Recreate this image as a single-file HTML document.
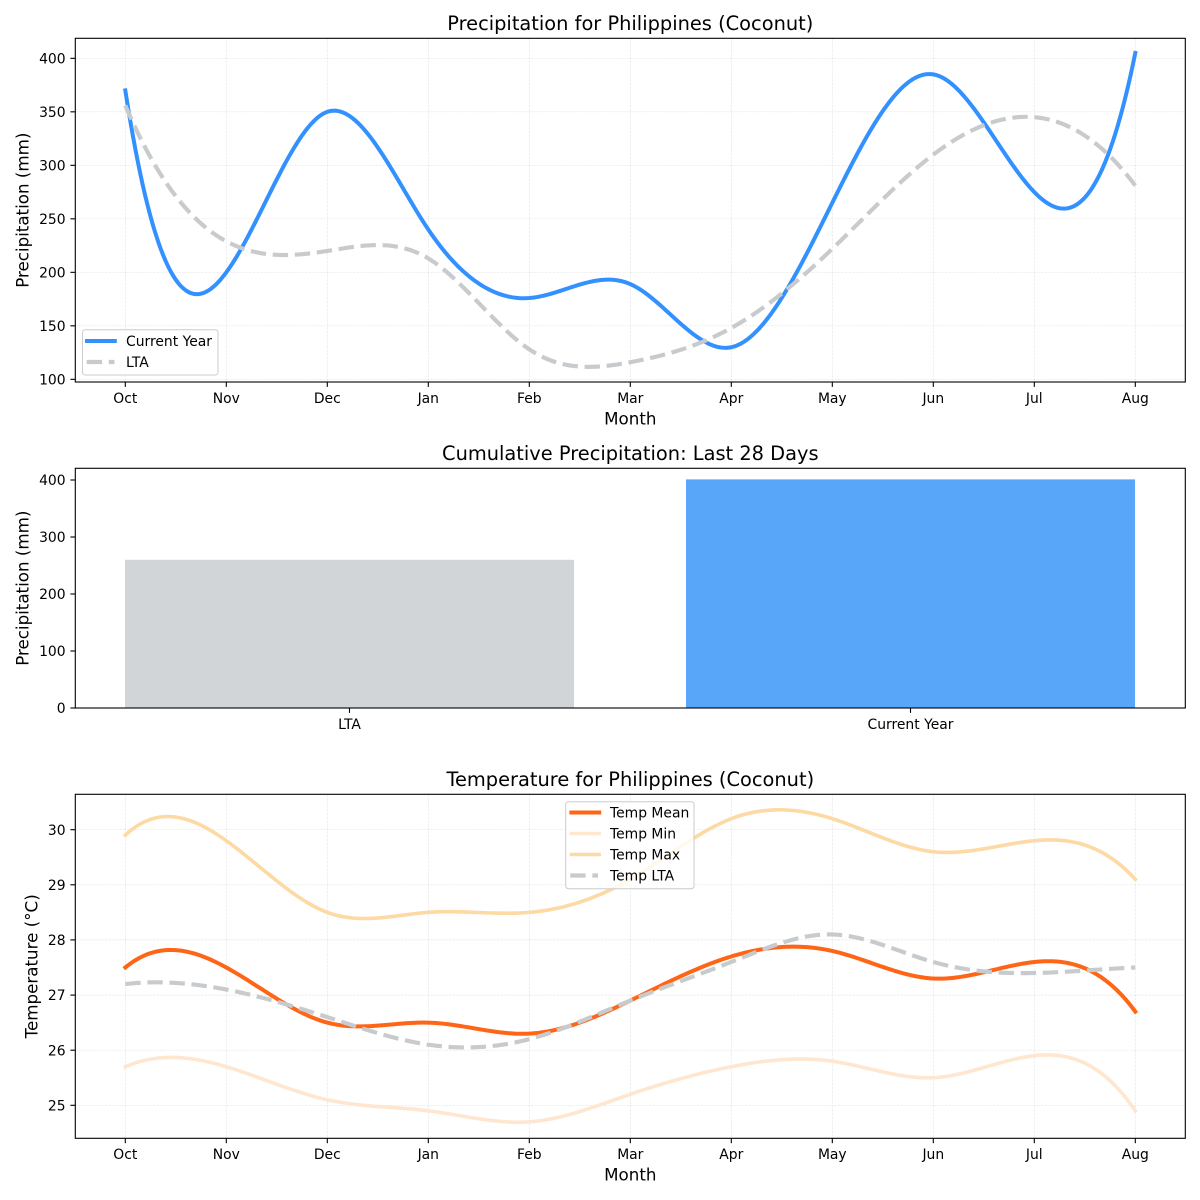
<!DOCTYPE html>
<html><head><meta charset="utf-8"><style>
html,body{margin:0;padding:0;background:#fff;}
svg{display:block;}
text{font-family:"DejaVu Sans","Liberation Sans",sans-serif;fill:#000;}
.tk{font-size:13.9px;}
.ax{font-size:16.7px;}
.ti{font-size:19.4px;}
.lg{font-size:13.9px;}
.grid line{stroke:#b0b0b0;stroke-opacity:0.3;stroke-width:0.7;stroke-dasharray:2.6 1.1;}
.tick line{stroke:#000;stroke-width:1.1;}
</style></head><body>
<svg width="1200" height="1200" viewBox="0 0 1200 1200" xmlns="http://www.w3.org/2000/svg">
<rect x="0" y="0" width="1200" height="1200" fill="#fff"/>

<!-- ================= PLOT 1 ================= -->
<g class="grid">
<line x1="125.3" y1="38.3" x2="125.3" y2="382"/><line x1="226.3" y1="38.3" x2="226.3" y2="382"/>
<line x1="327.3" y1="38.3" x2="327.3" y2="382"/><line x1="428.3" y1="38.3" x2="428.3" y2="382"/>
<line x1="529.3" y1="38.3" x2="529.3" y2="382"/><line x1="630.3" y1="38.3" x2="630.3" y2="382"/>
<line x1="731.3" y1="38.3" x2="731.3" y2="382"/><line x1="832.3" y1="38.3" x2="832.3" y2="382"/>
<line x1="933.3" y1="38.3" x2="933.3" y2="382"/><line x1="1034.3" y1="38.3" x2="1034.3" y2="382"/>
<line x1="1135.3" y1="38.3" x2="1135.3" y2="382"/>
<line x1="75.3" y1="379.33" x2="1185.3" y2="379.33"/><line x1="75.3" y1="325.83" x2="1185.3" y2="325.83"/>
<line x1="75.3" y1="272.33" x2="1185.3" y2="272.33"/><line x1="75.3" y1="218.83" x2="1185.3" y2="218.83"/>
<line x1="75.3" y1="165.33" x2="1185.3" y2="165.33"/><line x1="75.3" y1="111.83" x2="1185.3" y2="111.83"/>
<line x1="75.3" y1="58.33" x2="1185.3" y2="58.33"/>
</g>
<path id="p1cur" d="" fill="none" stroke="#3391ff" stroke-width="4" stroke-linecap="square" stroke-linejoin="round"/>
<path id="p1lta" d="" fill="none" stroke="#c8cbcd" stroke-width="4.17" stroke-dasharray="15.4 6.7" stroke-linecap="butt"/>
<rect x="75.3" y="38.3" width="1110" height="343.7" fill="none" stroke="#000" stroke-width="1.1"/>
<g class="tick">
<line x1="125.3" y1="382" x2="125.3" y2="386.9"/><line x1="226.3" y1="382" x2="226.3" y2="386.9"/>
<line x1="327.3" y1="382" x2="327.3" y2="386.9"/><line x1="428.3" y1="382" x2="428.3" y2="386.9"/>
<line x1="529.3" y1="382" x2="529.3" y2="386.9"/><line x1="630.3" y1="382" x2="630.3" y2="386.9"/>
<line x1="731.3" y1="382" x2="731.3" y2="386.9"/><line x1="832.3" y1="382" x2="832.3" y2="386.9"/>
<line x1="933.3" y1="382" x2="933.3" y2="386.9"/><line x1="1034.3" y1="382" x2="1034.3" y2="386.9"/>
<line x1="1135.3" y1="382" x2="1135.3" y2="386.9"/>
<line x1="70.4" y1="379.33" x2="75.3" y2="379.33"/><line x1="70.4" y1="325.83" x2="75.3" y2="325.83"/>
<line x1="70.4" y1="272.33" x2="75.3" y2="272.33"/><line x1="70.4" y1="218.83" x2="75.3" y2="218.83"/>
<line x1="70.4" y1="165.33" x2="75.3" y2="165.33"/><line x1="70.4" y1="111.83" x2="75.3" y2="111.83"/>
<line x1="70.4" y1="58.33" x2="75.3" y2="58.33"/>
</g>
<g class="tk" text-anchor="middle">
<text x="125.3" y="403">Oct</text><text x="226.3" y="403">Nov</text><text x="327.3" y="403">Dec</text>
<text x="428.3" y="403">Jan</text><text x="529.3" y="403">Feb</text><text x="630.3" y="403">Mar</text>
<text x="731.3" y="403">Apr</text><text x="832.3" y="403">May</text><text x="933.3" y="403">Jun</text>
<text x="1034.3" y="403">Jul</text><text x="1135.3" y="403">Aug</text>
</g>
<g class="tk" text-anchor="end">
<text x="65.6" y="384.4">100</text><text x="65.6" y="330.9">150</text><text x="65.6" y="277.4">200</text>
<text x="65.6" y="223.9">250</text><text x="65.6" y="170.4">300</text><text x="65.6" y="116.9">350</text>
<text x="65.6" y="63.4">400</text>
</g>
<text class="ax" x="630.3" y="424.5" text-anchor="middle">Month</text>
<text class="ax" transform="translate(28.5,210.2) rotate(-90)" text-anchor="middle">Precipitation (mm)</text>
<text class="ti" x="630.3" y="30" text-anchor="middle">Precipitation for Philippines (Coconut)</text>
<!-- legend 1 -->
<rect x="82.5" y="329.7" width="135.5" height="45.3" rx="2.8" fill="#fff" fill-opacity="0.8" stroke="#cccccc" stroke-width="1"/>
<line x1="87" y1="341" x2="114.8" y2="341" stroke="#3391ff" stroke-width="4" stroke-linecap="square"/>
<line x1="86.7" y1="362" x2="114.5" y2="362" stroke="#c8cbcd" stroke-width="4.17" stroke-dasharray="15.4 6.7"/>
<text class="lg" x="126" y="346">Current Year</text>
<text class="lg" x="126" y="367">LTA</text>

<!-- ================= PLOT 2 ================= -->
<rect x="125" y="559.8" width="449" height="148.2" fill="#d1d5d8"/>
<rect x="686" y="479.4" width="449" height="228.6" fill="#58a6fa"/>
<rect x="75.3" y="468.3" width="1110" height="239.7" fill="none" stroke="#000" stroke-width="1.1"/>
<g class="tick">
<line x1="349.5" y1="708" x2="349.5" y2="712.9"/><line x1="910.5" y1="708" x2="910.5" y2="712.9"/>
<line x1="70.4" y1="708" x2="75.3" y2="708"/><line x1="70.4" y1="651" x2="75.3" y2="651"/>
<line x1="70.4" y1="594" x2="75.3" y2="594"/><line x1="70.4" y1="537" x2="75.3" y2="537"/>
<line x1="70.4" y1="480" x2="75.3" y2="480"/>
</g>
<g class="tk" text-anchor="middle">
<text x="349.5" y="729">LTA</text><text x="910.5" y="729">Current Year</text>
</g>
<g class="tk" text-anchor="end">
<text x="65.6" y="713.1">0</text><text x="65.6" y="656.1">100</text><text x="65.6" y="599.1">200</text>
<text x="65.6" y="542.1">300</text><text x="65.6" y="485.1">400</text>
</g>
<text class="ax" transform="translate(28.5,588.2) rotate(-90)" text-anchor="middle">Precipitation (mm)</text>
<text class="ti" x="630.3" y="460" text-anchor="middle">Cumulative Precipitation: Last 28 Days</text>

<!-- ================= PLOT 3 ================= -->
<g class="grid">
<line x1="125.3" y1="794.3" x2="125.3" y2="1138.3"/><line x1="226.3" y1="794.3" x2="226.3" y2="1138.3"/>
<line x1="327.3" y1="794.3" x2="327.3" y2="1138.3"/><line x1="428.3" y1="794.3" x2="428.3" y2="1138.3"/>
<line x1="529.3" y1="794.3" x2="529.3" y2="1138.3"/><line x1="630.3" y1="794.3" x2="630.3" y2="1138.3"/>
<line x1="731.3" y1="794.3" x2="731.3" y2="1138.3"/><line x1="832.3" y1="794.3" x2="832.3" y2="1138.3"/>
<line x1="933.3" y1="794.3" x2="933.3" y2="1138.3"/><line x1="1034.3" y1="794.3" x2="1034.3" y2="1138.3"/>
<line x1="1135.3" y1="794.3" x2="1135.3" y2="1138.3"/>
<line x1="75.3" y1="829.7" x2="1185.3" y2="829.7"/><line x1="75.3" y1="884.8" x2="1185.3" y2="884.8"/>
<line x1="75.3" y1="939.9" x2="1185.3" y2="939.9"/><line x1="75.3" y1="995.1" x2="1185.3" y2="995.1"/>
<line x1="75.3" y1="1050.2" x2="1185.3" y2="1050.2"/><line x1="75.3" y1="1105.3" x2="1185.3" y2="1105.3"/>
</g>
<path id="tmean" d="" fill="none" stroke="#ff6516" stroke-width="4" stroke-linecap="square" stroke-linejoin="round"/>
<path id="tmin" d="" fill="none" stroke="#ffe6d0" stroke-width="3.6" stroke-linecap="square" stroke-linejoin="round"/>
<path id="tmax" d="" fill="none" stroke="#fdd9a4" stroke-width="3.6" stroke-linecap="square" stroke-linejoin="round"/>
<path id="tlta" d="" fill="none" stroke="#c8cbcd" stroke-width="4.17" stroke-dasharray="15.4 6.7" stroke-linecap="butt"/>
<rect x="75.3" y="794.3" width="1110" height="344" fill="none" stroke="#000" stroke-width="1.1"/>
<g class="tick">
<line x1="125.3" y1="1138.3" x2="125.3" y2="1143.2"/><line x1="226.3" y1="1138.3" x2="226.3" y2="1143.2"/>
<line x1="327.3" y1="1138.3" x2="327.3" y2="1143.2"/><line x1="428.3" y1="1138.3" x2="428.3" y2="1143.2"/>
<line x1="529.3" y1="1138.3" x2="529.3" y2="1143.2"/><line x1="630.3" y1="1138.3" x2="630.3" y2="1143.2"/>
<line x1="731.3" y1="1138.3" x2="731.3" y2="1143.2"/><line x1="832.3" y1="1138.3" x2="832.3" y2="1143.2"/>
<line x1="933.3" y1="1138.3" x2="933.3" y2="1143.2"/><line x1="1034.3" y1="1138.3" x2="1034.3" y2="1143.2"/>
<line x1="1135.3" y1="1138.3" x2="1135.3" y2="1143.2"/>
<line x1="70.4" y1="829.7" x2="75.3" y2="829.7"/><line x1="70.4" y1="884.8" x2="75.3" y2="884.8"/>
<line x1="70.4" y1="939.9" x2="75.3" y2="939.9"/><line x1="70.4" y1="995.1" x2="75.3" y2="995.1"/>
<line x1="70.4" y1="1050.2" x2="75.3" y2="1050.2"/><line x1="70.4" y1="1105.3" x2="75.3" y2="1105.3"/>
</g>
<g class="tk" text-anchor="middle">
<text x="125.3" y="1159">Oct</text><text x="226.3" y="1159">Nov</text><text x="327.3" y="1159">Dec</text>
<text x="428.3" y="1159">Jan</text><text x="529.3" y="1159">Feb</text><text x="630.3" y="1159">Mar</text>
<text x="731.3" y="1159">Apr</text><text x="832.3" y="1159">May</text><text x="933.3" y="1159">Jun</text>
<text x="1034.3" y="1159">Jul</text><text x="1135.3" y="1159">Aug</text>
</g>
<g class="tk" text-anchor="end">
<text x="65.6" y="834.8">30</text><text x="65.6" y="889.9">29</text><text x="65.6" y="945">28</text>
<text x="65.6" y="1000.2">27</text><text x="65.6" y="1055.3">26</text><text x="65.6" y="1110.4">25</text>
</g>
<text class="ax" x="630.3" y="1180.7" text-anchor="middle">Month</text>
<text class="ax" transform="translate(37.5,966.3) rotate(-90)" text-anchor="middle">Temperature (°C)</text>
<text class="ti" x="630.3" y="786" text-anchor="middle">Temperature for Philippines (Coconut)</text>
<!-- legend 3 -->
<rect x="565.7" y="801.7" width="128.3" height="87" rx="2.8" fill="#fff" fill-opacity="0.8" stroke="#cccccc" stroke-width="1"/>
<line x1="571.4" y1="812.5" x2="599.2" y2="812.5" stroke="#ff6516" stroke-width="4" stroke-linecap="square"/>
<line x1="571.4" y1="833.5" x2="599.2" y2="833.5" stroke="#ffe6d0" stroke-width="3.6" stroke-linecap="square"/>
<line x1="571.4" y1="854.5" x2="599.2" y2="854.5" stroke="#fdd9a4" stroke-width="3.6" stroke-linecap="square"/>
<line x1="570.2" y1="875.5" x2="598" y2="875.5" stroke="#c8cbcd" stroke-width="4.17" stroke-dasharray="15.4 6.7"/>
<text class="lg" x="610" y="817.4">Temp Mean</text>
<text class="lg" x="610" y="838.4">Temp Min</text>
<text class="lg" x="610" y="859.4">Temp Max</text>
<text class="lg" x="610" y="880.4">Temp LTA</text>
</svg>
<script>
(function(){
function solve(A,b){var n=b.length,c,r,k,p,t;
 for(c=0;c<n;c++){p=c;for(r=c+1;r<n;r++)if(Math.abs(A[r][c])>Math.abs(A[p][c]))p=r;
  t=A[c];A[c]=A[p];A[p]=t;t=b[c];b[c]=b[p];b[p]=t;
  for(r=c+1;r<n;r++){var f=A[r][c]/A[c][c];for(k=c;k<n;k++)A[r][k]-=f*A[c][k];b[r]-=f*b[c];}}
 var x=new Array(n);for(r=n-1;r>=0;r--){var s=b[r];for(k=r+1;k<n;k++)s-=A[r][k]*x[k];x[r]=s/A[r][r];}return x;}
function spline(y){var n=y.length,A=[],b=[],i,j;
 for(i=0;i<n;i++){A.push([]);for(j=0;j<n;j++)A[i].push(0);b.push(0);}
 A[0][0]=1;A[0][1]=-2;A[0][2]=1;
 for(i=1;i<n-1;i++){A[i][i-1]=1;A[i][i]=4;A[i][i+1]=1;b[i]=6*(y[i+1]-2*y[i]+y[i-1]);}
 A[n-1][n-3]=1;A[n-1][n-2]=-2;A[n-1][n-1]=1;
 var M=solve(A,b);
 return function(x){var i=Math.floor(x);if(i>=n-1)i=n-2;if(i<0)i=0;var t=x-i,u=1-t;
  return u*y[i]+t*y[i+1]+(u*u*u-u)*M[i]/6+(t*t*t-t)*M[i+1]/6;};}
function mk(id,y,ym){var S=spline(y),N=400,d='';
 for(var k=0;k<=N;k++){var x=10*k/N;var px=125.3+101*x,py=ym(S(x));d+=(k?'L':'M')+px.toFixed(2)+' '+py.toFixed(2);}
 document.getElementById(id).setAttribute('d',d);}
var p1=function(v){return 379.33-(v-100)*1.07;};
var p3=function(v){return 829.7-(v-30)*55.12;};
mk('p1cur',[370,200,350,240,176,189,130,265,385,275,405],p1);
mk('p1lta',[356,229,220,213,128,116,148,222,310,345,281],p1);
mk('tmean',[27.5,27.5,26.5,26.5,26.3,26.9,27.7,27.8,27.3,27.6,26.7],p3);
mk('tmin',[25.7,25.7,25.1,24.9,24.7,25.2,25.7,25.8,25.5,25.9,24.9],p3);
mk('tmax',[29.9,29.8,28.5,28.5,28.5,29.1,30.2,30.2,29.6,29.8,29.1],p3);
mk('tlta',[27.2,27.1,26.6,26.1,26.2,26.9,27.6,28.1,27.6,27.4,27.5],p3);
})();
</script>
</body></html>
